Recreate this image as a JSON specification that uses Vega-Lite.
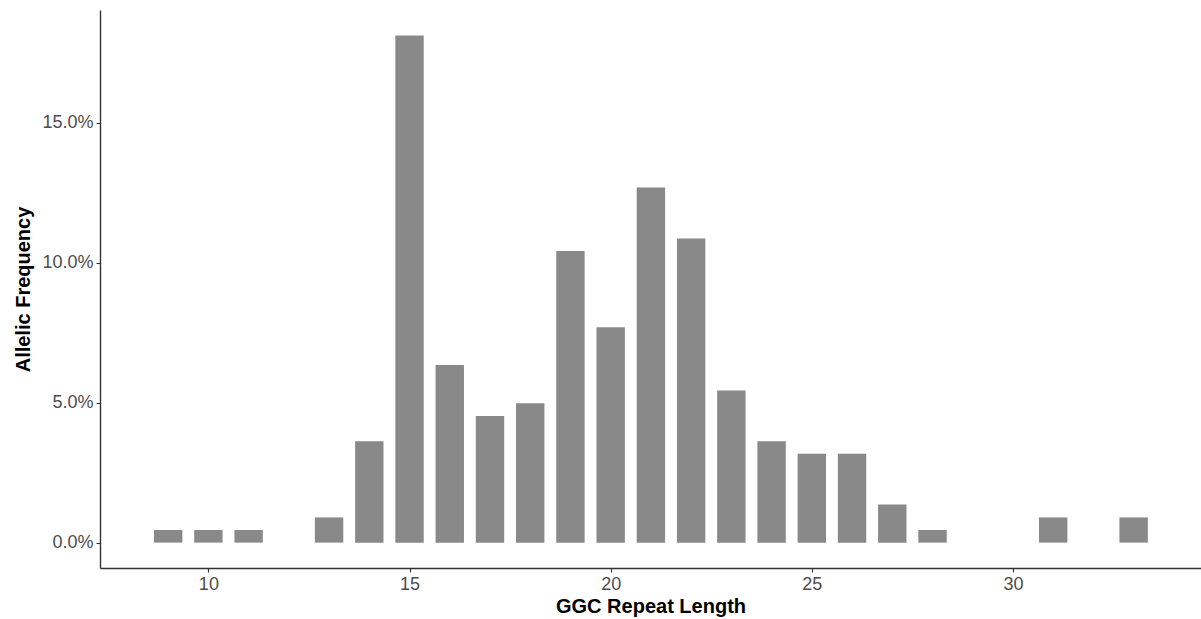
{
  "$schema": "https://vega.github.io/schema/vega-lite/v6.json",
  "width": 1101,
  "height": 558,
  "autosize": {"type": "none"},
  "padding": {"left": 100, "top": 10, "right": 0, "bottom": 51},
  "background": "white",
  "config": {
    "view": {"stroke": null},
    "axis": {
      "grid": false,
      "domainColor": "#333333",
      "domainWidth": 1.4,
      "tickColor": "#333333",
      "tickWidth": 1.1,
      "tickSize": 4,
      "labelColor": "#4D4D4D",
      "labelFont": "Liberation Sans",
      "labelFontSize": 18,
      "labelPadding": 3,
      "titleFont": "Liberation Sans",
      "titleFontWeight": "bold",
      "titleFontSize": 20,
      "titleColor": "#000000"
    }
  },
  "data": {
    "values": [
      {"repeat": 9, "freq": 0.0045},
      {"repeat": 10, "freq": 0.0045},
      {"repeat": 11, "freq": 0.0045},
      {"repeat": 13, "freq": 0.0090},
      {"repeat": 14, "freq": 0.0362},
      {"repeat": 15, "freq": 0.1811},
      {"repeat": 16, "freq": 0.0634},
      {"repeat": 17, "freq": 0.0452},
      {"repeat": 18, "freq": 0.0498},
      {"repeat": 19, "freq": 0.1041},
      {"repeat": 20, "freq": 0.0769},
      {"repeat": 21, "freq": 0.1268},
      {"repeat": 22, "freq": 0.1086},
      {"repeat": 23, "freq": 0.0543},
      {"repeat": 24, "freq": 0.0362},
      {"repeat": 25, "freq": 0.0317},
      {"repeat": 26, "freq": 0.0317},
      {"repeat": 27, "freq": 0.0136},
      {"repeat": 28, "freq": 0.0045},
      {"repeat": 31, "freq": 0.0090},
      {"repeat": 33, "freq": 0.0090}
    ]
  },
  "mark": {"type": "bar", "color": "#898989", "size": 28.4},
  "encoding": {
    "x": {
      "field": "repeat",
      "type": "quantitative",
      "title": "GGC Repeat Length",
      "scale": {"domain": [7.43, 34.55], "nice": false, "zero": false},
      "axis": {"values": [10, 15, 20, 25, 30], "titlePadding": 3}
    },
    "y": {
      "field": "freq",
      "type": "quantitative",
      "title": "Allelic Frequency",
      "scale": {"domain": [-0.00906, 0.1902], "nice": false, "zero": false},
      "axis": {"values": [0, 0.05, 0.1, 0.15], "format": ".1%", "titlePadding": 8}
    }
  }
}
